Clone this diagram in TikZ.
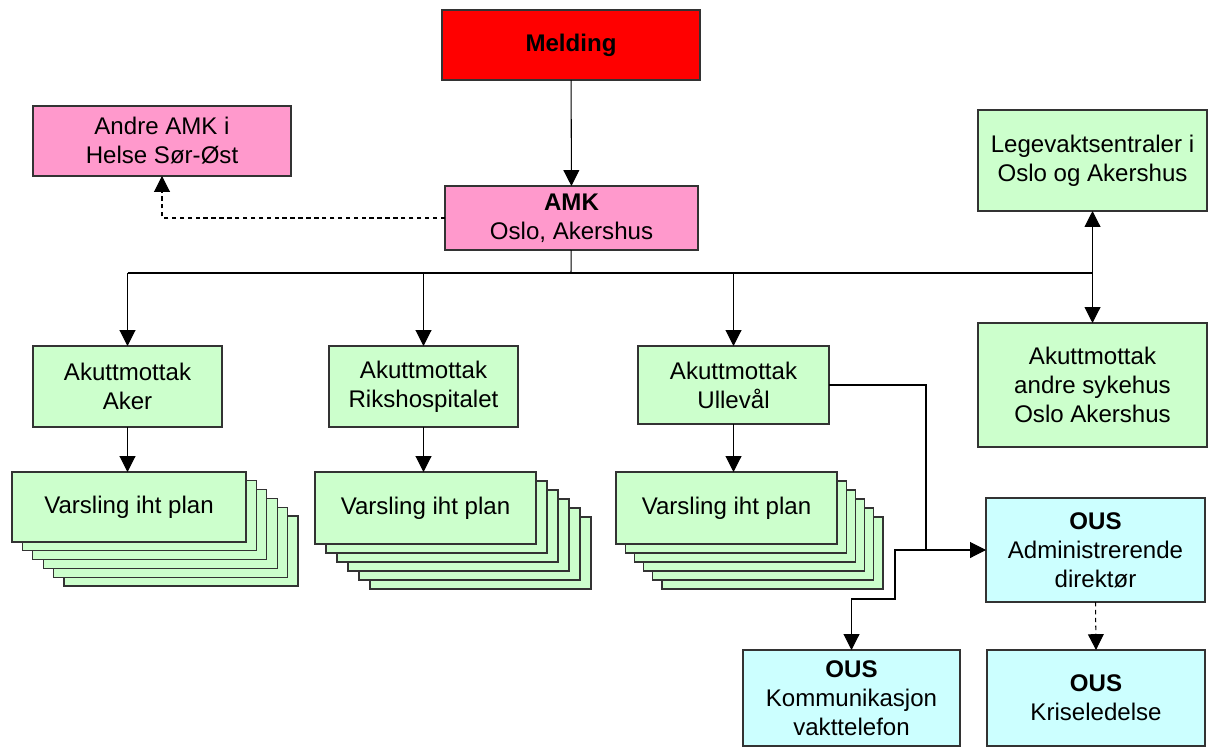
\documentclass[tikz,border=0pt]{standalone}
\usepackage{fontspec}
\setmainfont{Liberation Sans}
\usetikzlibrary{arrows.meta}
\definecolor{cgreen}{RGB}{204,255,204}
\definecolor{cpink}{RGB}{255,153,204}
\definecolor{cred}{RGB}{255,0,0}
\definecolor{ccyan}{RGB}{204,255,255}
\newcommand\boxat[7]{\node[#6, minimum width={(#4-#2)*0.02cm}, minimum height={(#5-#3)*0.02cm}] (#1) at ({(#2+#4)/2},{(#3+#5)/2}) {#7};}
\newcommand\stackat[8]{%
  \foreach \i in {5,4,...,1}{%
    \fill[cgreen, draw=black!80, line width=0.6pt] ({#2+\i*#6},{#3+\i*#7}) rectangle ({#4+\i*#6},{#5+\i*#7});
  }%
  \boxat{#1}{#2}{#3}{#4}{#5}{gbox}{#8}}
\begin{document}
\begin{tikzpicture}[x=0.02cm,y=-0.02cm,
  box/.style={draw=black!80, line width=0.6pt, inner sep=1pt, outer sep=0pt, align=center, font=\fontsize{13.7}{16.5}\selectfont},
  gbox/.style={box, fill=cgreen},
  pbox/.style={box, fill=cpink},
  rbox/.style={box, fill=cred},
  cbox/.style={box, fill=ccyan},
  conn/.style={draw=black, line width=0.6pt},
  arr/.style={conn, -{Triangle[width=9pt,length=9pt]}},
  darr/.style={arr, dash pattern=on 2.5pt off 2pt},
  barr/.style={conn, {Triangle[width=9pt,length=9pt]}-{Triangle[width=9pt,length=9pt]}}]
\useasboundingbox (0,0) rectangle (1213,747);
\boxat{mel}{442}{10}{700}{80}{rbox}{\textbf{Melding}}
\boxat{amk}{445}{186}{698}{250}{pbox}{\textbf{AMK}\\Oslo, Akershus}
\boxat{andre}{33}{106}{291}{176}{pbox}{Andre AMK i\\Helse Sør-Øst}
\boxat{lege}{978}{110}{1207}{211}{gbox}{Legevaktsentraler i\\Oslo og Akershus}
\boxat{andsyk}{978}{323}{1207}{447}{gbox}{Akuttmottak\\andre sykehus\\Oslo Akershus}
\boxat{aker}{33}{346}{222}{427}{gbox}{Akuttmottak\\Aker}
\boxat{riks}{329}{346}{518}{427}{gbox}{Akuttmottak\\Rikshospitalet}
\boxat{ull}{638}{346}{829}{424}{gbox}{Akuttmottak\\Ullevål}
\stackat{varA}{12}{472}{246}{542}{10.4}{8.8}{Varsling iht plan}
\stackat{varR}{315}{472}{536}{544}{11}{9}{Varsling iht plan}
\stackat{varU}{616}{472}{837}{544}{9.2}{9}{Varsling iht plan}
\boxat{adm}{986}{498}{1205}{602}{cbox}{\textbf{OUS}\\Administrerende\\direktør}
\boxat{komm}{743}{650}{960}{746}{cbox}{\textbf{OUS}\\Kommunikasjon\\vakttelefon}
\boxat{krise}{987}{650}{1205}{746}{cbox}{\textbf{OUS}\\Kriseledelse}
% connectors
\draw[arr] (mel) -- (amk);
\draw[darr] (amk.west) -| (andre.south);
\coordinate (j) at (571,273);
\draw[conn] (amk) -- (j);
\draw[conn] (aker.north |- j) -- (lege.south |- j);
\draw[arr] (aker.north |- j) -- (aker.north);
\draw[arr] (riks.north |- j) -- (riks.north);
\draw[arr] (ull.north |- j) -- (ull.north);
\draw[barr] (lege.south) -- (andsyk.north);
\draw[arr] (aker.south) -- (aker.south |- varA.north);
\draw[arr] (riks.south) -- (riks.south |- varR.north);
\draw[arr] (ull.south) -- (ull.south |- varU.north);
\coordinate (k) at (926,550);
\coordinate (b1) at (895,550);
\coordinate (b2) at (895,599);
\draw[arr] (ull.east) -| (k) -- (adm.west |- k);
\draw[arr] (k) -- (b1) -- (b2) -| (komm.north);
\draw[darr] (adm.south) -- (krise.north);
\end{tikzpicture}
\end{document}
